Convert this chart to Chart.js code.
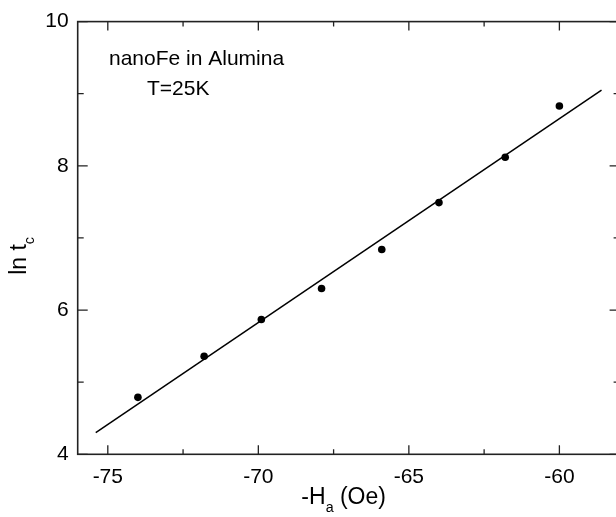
<!DOCTYPE html>
<html>
<head>
<meta charset="utf-8">
<script src="https://cdn.jsdelivr.net/npm/chart.js@4.4.1/dist/chart.umd.min.js"></script>
<style>
html, body {margin: 0; overflow: hidden; background: #fff;}
#wrap {width: 630px; height: 517px; position: relative;}
</style>
</head>
<body>
<div id="wrap"><canvas id="lnt_chart"></canvas></div>
<script>
// data
const field_values = [-74, -71.8, -69.9, -67.9, -65.9, -64, -61.8, -60]
const ln_tc = [4.79, 5.36, 5.87, 6.30, 6.84, 7.49, 8.12, 8.83]
// fitted straight line (two ends)
const fit_x = [-75.4, -58.6]
const fit_y = [4.30, 9.05]

const x_ticks = [-75, -70, -65, -60]
const x_minor = [-72.5, -67.5, -62.5]
const y_ticks = [4, 6, 8, 10]
const y_minor = [5, 7, 9]

const font_family = "'Liberation Sans', Arial, Helvetica, sans-serif"

// draws text made of [string, isSub] parts, centred at 0,0 baseline
function draw_parts(ctx, parts, size) {
    let widths = parts.map(p => {
        ctx.font = (p[1] ? size * 0.62 : size) + 'px ' + font_family
        return ctx.measureText(p[0]).width
    })
    let total = widths.reduce((a, b) => a + b, 0)
    let x = -total / 2
    parts.forEach((p, i) => {
        ctx.font = (p[1] ? size * 0.62 : size) + 'px ' + font_family
        ctx.fillText(p[0], x, p[1] ? size * 0.35 : 0)
        x += widths[i]
    })
}

const frame_plugin = {
    id: 'frame',
    afterDraw(chart) {
        const ctx = chart.ctx
        const a = chart.chartArea
        const xs = chart.scales.x
        const ys = chart.scales.y
        ctx.save()
        ctx.strokeStyle = '#222'
        ctx.lineWidth = 1.6
        ctx.strokeRect(a.left, a.top, a.right - a.left, a.bottom - a.top)

        ctx.lineWidth = 1.3
        ctx.beginPath()
        const xmark = (v, len) => {
            let px = xs.getPixelForValue(v)
            ctx.moveTo(px, a.bottom); ctx.lineTo(px, a.bottom - len)
            ctx.moveTo(px, a.top); ctx.lineTo(px, a.top + len)
        }
        const ymark = (v, len) => {
            let py = ys.getPixelForValue(v)
            ctx.moveTo(a.left, py); ctx.lineTo(a.left + len, py)
            ctx.moveTo(a.right, py); ctx.lineTo(a.right - len, py)
        }
        x_ticks.forEach(v => xmark(v, 9))
        x_minor.forEach(v => xmark(v, 5))
        y_ticks.forEach(v => ymark(v, 10))
        y_minor.forEach(v => ymark(v, 6))
        ctx.stroke()

        // labels
        ctx.fillStyle = '#000'
        ctx.textAlign = 'left'
        ctx.textBaseline = 'alphabetic'
        ctx.font = '21px ' + font_family
        ctx.fillText('nanoFe in Alumina', 109, 65)
        ctx.fillText('T=25K', 147, 95)

        // x axis title
        ctx.save()
        ctx.translate((a.left + a.right) / 2 - 5, 504)
        draw_parts(ctx, [['-H', false], ['a', true], [' (Oe)', false]], 23)
        ctx.restore()

        // y axis title
        ctx.save()
        ctx.translate(26, (a.top + a.bottom) / 2 + 18)
        ctx.rotate(-Math.PI / 2)
        draw_parts(ctx, [['ln t', false], ['c', true]], 23)
        ctx.restore()

        ctx.restore()
    }
}

let lnt_document = document.getElementById('lnt_chart').getContext('2d')

let lnt_chart = new Chart(lnt_document, {
    type: 'scatter',
    data: {
        datasets: [{
            label: 'ln tc',
            data: field_values.map((x, i) => ({x: x, y: ln_tc[i]})),
            backgroundColor: '#000',
            borderColor: '#000',
            pointRadius: 3.8,
            borderWidth: 0,
            showLine: false
        }, {
            label: 'fit',
            data: fit_x.map((x, i) => ({x: x, y: fit_y[i]})),
            borderColor: '#000',
            borderWidth: 1.5,
            pointRadius: 0,
            showLine: true,
            fill: false
        }]
    },
    options: {
        responsive: true,
        maintainAspectRatio: false,
        animation: false,
        layout: {padding: {top: 20, left: 0, right: 10.4, bottom: 0}},
        plugins: {
            legend: {display: false},
            tooltip: {enabled: false}
        },
        scales: {
            x: {
                type: 'linear',
                min: -76,
                max: -58,
                grid: {display: false, drawTicks: false},
                border: {display: false},
                ticks: {
                    color: '#000',
                    padding: 10,
                    font: {size: 21, family: font_family}
                },
                afterBuildTicks: s => { s.ticks = x_ticks.map(v => ({value: v})) },
                afterFit: s => { s.height = 62.7 }
            },
            y: {
                type: 'linear',
                min: 4,
                max: 10,
                grid: {display: false, drawTicks: false},
                border: {display: false},
                ticks: {
                    color: '#000',
                    padding: 9,
                    font: {size: 21, family: font_family}
                },
                afterBuildTicks: s => { s.ticks = y_ticks.map(v => ({value: v})) },
                afterFit: s => { s.width = 77.7 }
            }
        }
    },
    plugins: [frame_plugin]
})
</script>
</body>
</html>
